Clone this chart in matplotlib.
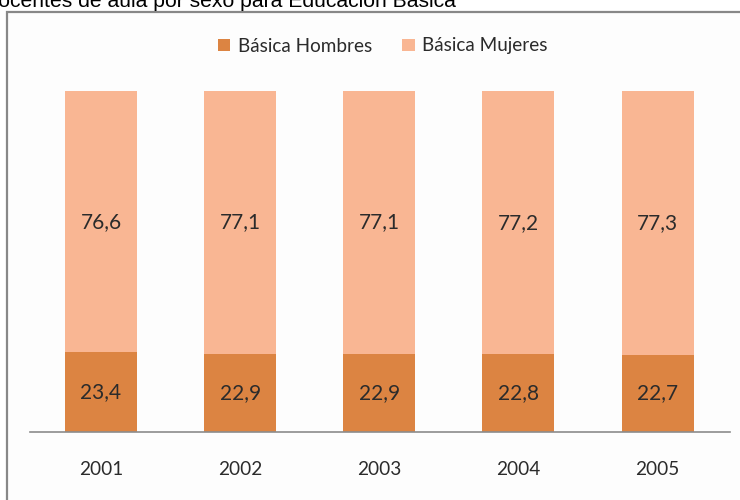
import matplotlib.pyplot as plt
from matplotlib.patches import Rectangle

years = ['2001', '2002', '2003', '2004', '2005']
hombres = [23.4, 22.9, 22.9, 22.8, 22.7]
mujeres = [76.6, 77.1, 77.1, 77.2, 77.3]

color_h = '#DC8442'
color_m = '#F9B693'
text_color = '#2b2b2b'
label_font = 'Lato'

W, H = 740, 500
fig = plt.figure(figsize=(7.4, 5.0), dpi=100)

# chart frame (left and top edges visible)
fig.add_artist(Rectangle((7 / W, -0.05), 1.0, 1 - 12 / H + 0.05, transform=fig.transFigure,
                         facecolor='#fdfdfd', edgecolor='#888888', linewidth=1.6, zorder=0))

# cropped title at top, as in the original
fig.text(-17 / W, 1 - 7 / H, 'Docentes de aula por sexo para Educación Básica',
         family='Liberation Sans', fontsize=15.2, va='baseline', ha='left', color='black')

ax = fig.add_axes([30 / W, 1 - 432 / H, 700 / W, 341 / H])
ax.patch.set_alpha(0)
x = range(len(years))
w = 0.517
b1 = ax.bar(x, hombres, width=w, color=color_h, label='Básica Hombres', zorder=2)
b2 = ax.bar(x, mujeres, width=w, bottom=hombres, color=color_m, label='Básica Mujeres', zorder=2)

for i in x:
    ax.text(i, hombres[i] / 2, f'{hombres[i]:.1f}'.replace('.', ','), ha='center', va='center',
            fontsize=15, family=label_font, color=text_color)
    ax.text(i, hombres[i] + mujeres[i] / 2, f'{mujeres[i]:.1f}'.replace('.', ','), ha='center',
            va='center', fontsize=15, family=label_font, color=text_color)

ax.set_xlim(-0.51, 4.52)
ax.set_ylim(0, 100)
ax.set_yticks([])
ax.set_xticks(list(x))
ax.set_xticklabels(years, fontsize=13.7, family=label_font, color=text_color)
ax.tick_params(axis='x', length=0, pad=21)
for s in ['top', 'right', 'left']:
    ax.spines[s].set_visible(False)
ax.spines['bottom'].set_color('#8c8c8c')
ax.spines['bottom'].set_linewidth(1.2)

leg = fig.legend(handles=[b1, b2], loc='center', bbox_to_anchor=(383 / W, 1 - 46 / H), ncol=2,
                 frameon=False, prop={'family': label_font, 'size': 13.6}, handlelength=0.65,
                 handleheight=0.65, handletextpad=0.4, columnspacing=1.6)
for t in leg.get_texts():
    t.set_color(text_color)

fig.savefig('out.png', dpi=100)
